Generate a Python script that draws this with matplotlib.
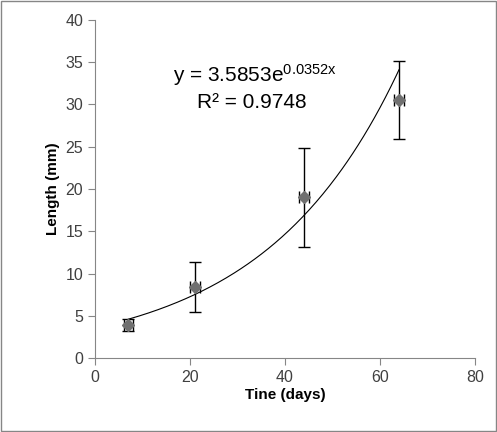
import numpy as np
import matplotlib
matplotlib.use("Agg")
import matplotlib.pyplot as plt
from matplotlib.patches import Rectangle

# data
days = [7, 21, 44, 64]
length_mm = [3.9, 8.4, 19.0, 30.5]
length_err = [0.75, 3.0, 5.9, 4.6]
days_err = [1.0, 1.0, 1.0, 1.0]
fit_a = 3.5853
fit_b = 0.0352
fit_r2 = 0.9748

plt.rcParams['font.family'] = ['Liberation Sans', 'DejaVu Sans']
plt.rcParams['mathtext.default'] = 'regular'

fig = plt.figure(figsize=(4.97, 4.32), dpi=100)
ax = fig.add_axes([95 / 497, 1 - 358 / 432, 380 / 497, 338 / 432])

ax.errorbar(days, length_mm, yerr=length_err, xerr=days_err, fmt='D',
            color='#707070', markersize=6, ecolor='black', elinewidth=1,
            capsize=4, capthick=1, zorder=3)

xs = np.linspace(min(days), max(days), 200)
ax.plot(xs, fit_a * np.exp(fit_b * xs), color='black', lw=0.8, zorder=2)

ax.set_xlim(0, 80)
ax.set_ylim(0, 40)
ax.set_xticks(range(0, 81, 20))
ax.set_yticks(range(0, 41, 5))
for s in ['top', 'right']:
    ax.spines[s].set_visible(False)
for s in ['left', 'bottom']:
    ax.spines[s].set_color('#868686')
ax.tick_params(direction='out', length=5, color='#868686', labelsize=11.5,
               labelcolor='#404040')
ax.set_xlabel('Tine (days)', fontweight='bold', fontsize=11, labelpad=2)
ax.set_ylabel('Length (mm)', fontweight='bold', fontsize=11)

ax.text(255 / 497, 1 - 75 / 432, r'y = 3.5853e$^{0.0352x}$',
        transform=fig.transFigure, ha='center', va='center', fontsize=15)
ax.text(252 / 497, 1 - 103 / 432, 'R² = 0.9748',
        transform=fig.transFigure, ha='center', va='center', fontsize=15)

fig.patches.append(Rectangle((1 / 497, 1.2 / 432), 494.8 / 497, 429.6 / 432,
                             transform=fig.transFigure, fill=False,
                             edgecolor='#868686', lw=1))

fig.savefig('out.png', dpi=100)
